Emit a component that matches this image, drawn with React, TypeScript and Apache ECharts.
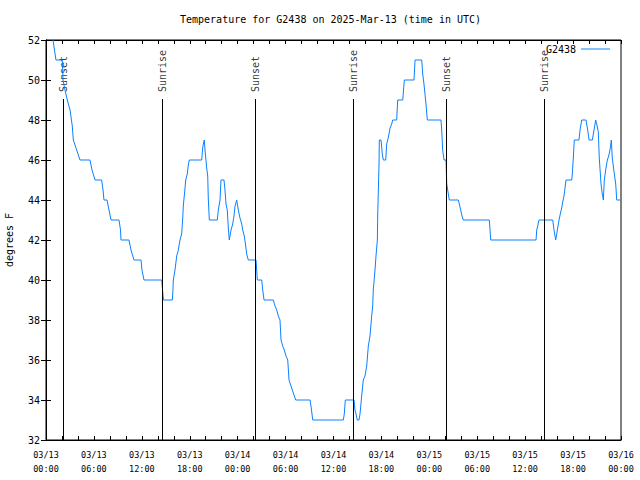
import React, { useEffect, useRef } from 'react';
import * as echarts from 'echarts';

const chartTitle = 'Temperature for G2438 on 2025-Mar-13 (time in UTC)';
const seriesName = 'G2438';
const yAxisName = 'degrees F';

// hours since 2025-03-13 00:00 UTC, temperature in degrees F
const g2438: [number, number][] = [
  [0.88, 52], [1.25, 51], [2.04, 51], [2.13, 50], [2.38, 49.5], [2.67, 49], [3.01, 48.5], [3.29, 47.7],
  [3.42, 47], [3.76, 46.6], [4.17, 46.1], [4.26, 46], [5.51, 46], [5.76, 45.5], [6.14, 45], [6.97, 45],
  [7.14, 44.5], [7.26, 44], [7.64, 44], [7.89, 43.5], [8.14, 43], [9.14, 43], [9.33, 42.5], [9.39, 42],
  [10.39, 42], [10.64, 41.5], [11.02, 41], [11.9, 41], [12.02, 40.5], [12.27, 40], [14.49, 40], [14.53, 39.8],
  [14.71, 39], [15.82, 39], [15.9, 39.5], [15.94, 40], [16.15, 40.5], [16.37, 41.2], [16.57, 41.5], [16.78, 42],
  [16.99, 42.3], [17.12, 43.1], [17.19, 43.7], [17.41, 44.6], [17.49, 45], [17.69, 45.3], [17.82, 45.75], [17.94, 46],
  [19.5, 46], [19.62, 46.6], [19.7, 46.8], [19.82, 47], [19.91, 46.5], [20.12, 45.6], [20.25, 45.2], [20.32, 44.1],
  [20.45, 43], [21.45, 43], [21.58, 43.5], [21.79, 44], [21.91, 45], [22.29, 45], [22.41, 44.5], [22.54, 43.8],
  [22.7, 43.5], [22.83, 42.6], [22.95, 42], [23.17, 42.5], [23.38, 42.8], [23.54, 43.2], [23.67, 43.7], [23.88, 44],
  [24.08, 43.5], [24.29, 43.1], [24.51, 42.8], [24.63, 42.5], [24.83, 42.2], [25.01, 41.7], [25.13, 41.3], [25.33, 41],
  [26.3, 41], [26.38, 40.5], [26.46, 40], [27.01, 40], [27.14, 39.5], [27.3, 39], [28.46, 39], [28.68, 38.7],
  [28.89, 38.5], [29.09, 38.2], [29.3, 38], [29.43, 37], [29.64, 36.7], [29.84, 36.5], [30.05, 36.2], [30.27, 36],
  [30.43, 35], [30.64, 34.75], [30.84, 34.5], [31.05, 34.25], [31.27, 34], [33.06, 34], [33.18, 33.7], [33.4, 33],
  [37.23, 33], [37.35, 33.3], [37.48, 34], [38.57, 34], [38.69, 33.5], [38.82, 33.3], [38.98, 33], [39.19, 33],
  [39.32, 33.3], [39.53, 34.2], [39.73, 35], [39.94, 35.2], [40.16, 35.7], [40.36, 36.7], [40.57, 37.2], [40.78, 38.2],
  [40.91, 38.7], [40.98, 39.5], [41.2, 40.5], [41.32, 41.2], [41.49, 42], [41.54, 43.3], [41.7, 45.8], [41.74, 47],
  [41.95, 47], [42.11, 46.3], [42.24, 46], [42.54, 46], [42.66, 46.8], [42.79, 47], [42.95, 47.3], [43.08, 47.6],
  [43.29, 47.8], [43.41, 48], [43.91, 48], [44.04, 49], [44.67, 49], [44.77, 49.5], [44.87, 50], [46.08, 50],
  [46.21, 51], [47.05, 51], [47.17, 50.3], [47.33, 49.8], [47.58, 48.8], [47.75, 48], [49.46, 48], [49.55, 47.5],
  [49.67, 46.5], [49.84, 46], [50.09, 46], [50.18, 44.8], [50.38, 44.3], [50.5, 44], [51.63, 44], [51.75, 43.8],
  [51.93, 43.5], [52.09, 43.2], [52.25, 43], [55.51, 43], [55.6, 42.5], [55.69, 42], [61.36, 42], [61.45, 42.5],
  [61.57, 42.7], [61.73, 43], [63.45, 43], [63.61, 42.5], [63.82, 42], [63.95, 42.3], [64.07, 42.6], [64.24, 43],
  [64.45, 43.4], [64.58, 43.6], [64.7, 43.9], [64.86, 44.2], [64.99, 44.6], [65.11, 45], [65.83, 45], [65.9, 45.3],
  [66.03, 46.1], [66.15, 47], [66.74, 47], [66.87, 47.5], [67.08, 48], [67.62, 48], [67.83, 47.5], [68.0, 47],
  [68.41, 47], [68.62, 47.5], [68.83, 48], [68.96, 47.8], [69.16, 47.4], [69.28, 46.1], [69.5, 44.8], [69.62, 44.4],
  [69.79, 44], [69.91, 45], [70.12, 45.6], [70.29, 46], [70.46, 46.2], [70.62, 46.5], [70.79, 47], [70.91, 46.1],
  [71.13, 45.4], [71.34, 44.8], [71.46, 44], [71.88, 44],
];

const eventHours = [2.17, 14.56, 26.21, 38.48, 50.09, 62.4];
const eventNames = ['Sunset', 'Sunrise', 'Sunset', 'Sunrise', 'Sunset', 'Sunrise'];
const eventLineTop = 49.05;
const eventLabelBase = 49.4;

const xTickLabels = [
  '03/13\n00:00', '03/13\n06:00', '03/13\n12:00', '03/13\n18:00',
  '03/14\n00:00', '03/14\n06:00', '03/14\n12:00', '03/14\n18:00',
  '03/15\n00:00', '03/15\n06:00', '03/15\n12:00', '03/15\n18:00',
  '03/16\n00:00',
];

const yMin = 32;
const yMax = 52;
const yStep = 2;
const xMin = 0;
const xMax = 72;
const xStep = 6;

const MONO = 'DejaVu Sans Mono';
const LINE_COLOR = '#0a80ff';

export default function App() {
  const ref = useRef<HTMLDivElement>(null);

  useEffect(() => {
    if (!ref.current) return;
    const chart = echarts.init(ref.current, null, { renderer: 'svg' });

    const tickCommon = {
      show: true,
      inside: true,
      length: 4,
      lineStyle: { color: '#000', width: 1 },
    };

    chart.setOption({
      animation: false,
      backgroundColor: '#fff',
      title: {
        text: chartTitle,
        left: 180,
        top: 14,
        padding: 0,
        textStyle: { fontFamily: MONO, fontSize: 10, fontWeight: 'normal', color: '#000' },
      },
      legend: {
        data: [seriesName],
        right: 30,
        top: 44,
        padding: 0,
        align: 'right',
        icon: 'rect',
        itemWidth: 29,
        itemHeight: 1,
        textStyle: { fontFamily: MONO, fontSize: 10, color: '#000' },
      },
      grid: {
        left: 46,
        right: 19,
        top: 40,
        bottom: 40,
        show: true,
        borderColor: '#000',
        borderWidth: 1,
        backgroundColor: 'transparent',
        containLabel: false,
        outerBoundsMode: 'none',
      },
      xAxis: [
        {
          type: 'value',
          min: xMin,
          max: xMax,
          interval: xStep,
          position: 'bottom',
          axisLine: { show: true, lineStyle: { color: '#000', width: 1 } },
          axisTick: tickCommon,
          minorTick: { show: true, splitNumber: 3, length: 4, lineStyle: { color: '#000', width: 1 } },
          splitLine: { show: false },
          minorSplitLine: { show: false },
          axisLabel: {
            formatter: (v: number) => xTickLabels[Math.round((v - xMin) / xStep)] ?? '',
            fontFamily: MONO,
            fontSize: 8.5,
            lineHeight: 14,
            color: '#000',
            margin: 8,
          },
        },
        {
          type: 'value',
          min: xMin,
          max: xMax,
          interval: xStep,
          position: 'top',
          axisLine: { show: true, lineStyle: { color: '#000', width: 1 } },
          axisTick: tickCommon,
          minorTick: { show: true, splitNumber: 3, length: 4, lineStyle: { color: '#000', width: 1 } },
          splitLine: { show: false },
          minorSplitLine: { show: false },
          axisLabel: { show: false },
        },
      ],
      yAxis: [
        {
          type: 'value',
          min: yMin,
          max: yMax,
          interval: yStep,
          position: 'left',
          axisLine: { show: true, lineStyle: { color: '#000', width: 1 } },
          axisTick: { ...tickCommon, length: 5 },
          splitLine: { show: false },
          axisLabel: { fontFamily: MONO, fontSize: 10, color: '#000', margin: 6 },
          name: yAxisName,
          nameLocation: 'middle',
          nameRotate: 90,
          nameGap: 32,
          nameTextStyle: { fontFamily: MONO, fontSize: 10, color: '#000' },
        },
        {
          type: 'value',
          min: yMin,
          max: yMax,
          interval: yStep,
          position: 'right',
          axisLine: { show: true, lineStyle: { color: '#000', width: 1 } },
          axisTick: { ...tickCommon, length: 5 },
          splitLine: { show: false },
          axisLabel: { show: false },
        },
      ],
      series: [
        {
          name: seriesName,
          type: 'line',
          xAxisIndex: 0,
          yAxisIndex: 0,
          data: g2438,
          symbol: 'none',
          showSymbol: false,
          clip: true,
          color: LINE_COLOR,
          lineStyle: { color: LINE_COLOR, width: 1 },
          markLine: {
            silent: true,
            symbol: ['none', 'none'],
            label: { show: false },
            lineStyle: { color: '#000', width: 1, type: 'solid' },
            emphasis: { disabled: true },
            data: eventHours.map((h) => [
              { coord: [h, eventLineTop] },
              { coord: [h, yMin] },
            ]),
          },
        },
        {
          name: 'events',
          type: 'scatter',
          xAxisIndex: 0,
          yAxisIndex: 0,
          silent: true,
          symbolSize: 1,
          itemStyle: { color: 'rgba(0,0,0,0)' },
          data: eventHours.map((h, i) => ({ value: [h, eventLabelBase], name: eventNames[i] })),
          label: {
            show: true,
            formatter: '{b}',
            position: 'inside',
            rotate: 90,
            align: 'left',
            verticalAlign: 'middle',
            fontFamily: MONO,
            fontSize: 10,
            color: '#000',
          },
        },
      ],
    });

    return () => chart.dispose();
  }, []);

  return (
    <div
      ref={ref}
      style={{ position: 'absolute', left: 0, top: 0, width: 640, height: 480, background: '#fff' }}
    />
  );
}
